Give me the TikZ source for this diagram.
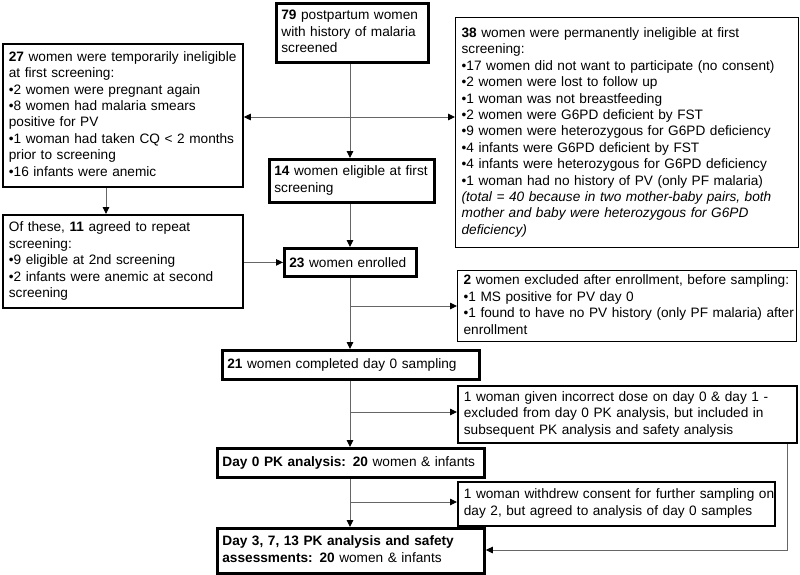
\documentclass[tikz,border=0pt]{standalone}
\usepackage{fontspec}
\setmainfont{Liberation Sans}
\usetikzlibrary{arrows.meta}
\newcommand{\boxlines}[1]{\begin{tabular}{@{}l@{}}#1\end{tabular}}
\begin{document}
\begin{tikzpicture}[x=1pt,y=-1pt,
  every node/.style={font=\fontsize{13.65pt}{16.4pt}\selectfont},
  mainbox/.style={draw=black, line width=2.8pt, anchor=north west, inner xsep=5pt, inner ysep=0pt, align=left},
  sidebox/.style={draw=black, line width=1.8pt, anchor=north west, inner xsep=6pt, inner ysep=0pt, align=left},
  thinbox/.style={draw=black, line width=1.3pt, anchor=north west, inner xsep=6pt, inner ysep=0pt, align=left},
  conn/.style={draw=black!60, line width=0.9pt, -{Triangle[length=7pt,width=6.5pt,color=black]}},
  bothconn/.style={draw=black!60, line width=0.9pt, {Triangle[length=7pt,width=6.5pt,color=black]}-{Triangle[length=7pt,width=6.5pt,color=black]}}]
\useasboundingbox (0,0) rectangle (800,574);

% main column
\node[mainbox, minimum width=152pt, minimum height=59pt, text width=142pt] (b79) at (275,2)
  {\boxlines{\textbf{79} postpartum women\\with history of malaria\\screened}};
\node[mainbox, minimum width=165pt, minimum height=43pt, text width=155pt] (b14) at (268,158)
  {\boxlines{\textbf{14} women eligible at first\\screening}};
\node[mainbox, minimum width=132pt, minimum height=28pt, text width=122pt] (b23) at (283,247)
  {\textbf{23} women enrolled};
\node[mainbox, minimum width=257pt, minimum height=29pt, text width=247pt] (b21) at (221,349)
  {\textbf{21} women completed day 0 sampling};
\node[mainbox, minimum width=267pt, minimum height=29pt, text width=257pt] (bd0) at (216,447)
  {\textbf{Day 0 PK analysis: 20} women \& infants};
\node[mainbox, minimum width=267pt, minimum height=45pt, text width=257pt] (bd3) at (216,527)
  {\boxlines{\textbf{Day 3, 7, 13 PK analysis and safety}\\\textbf{assessments: 20} women \& infants}};

% left boxes
\node[sidebox, minimum width=240pt, minimum height=143pt, text width=228pt] (b27) at (2,43)
  {\boxlines{\textbf{27} women were temporarily ineligible\\at first screening:\\•2 women were pregnant again\\•8 women had malaria smears\\positive for PV\\•1 woman had taken CQ < 2 months\\prior to screening\\•16 infants were anemic}};
\node[sidebox, minimum width=240pt, minimum height=93pt, text width=228pt] (bof) at (2,214)
  {\boxlines{Of these, \textbf{11} agreed to repeat\\screening:\\•9 eligible at 2nd screening\\•2 infants were anemic at second\\screening}};

% right boxes
\node[thinbox, minimum width=343pt, minimum height=230pt, text width=331pt] (b38) at (455,17)
  {\boxlines{\textbf{38} women were permanently ineligible at first\\screening:\\•17 women did not want to participate (no consent)\\•2 women were lost to follow up\\•1 woman was not breastfeeding\\•2 women were G6PD deficient by FST\\•9 women were heterozygous for G6PD deficiency\\•4 infants were G6PD deficient by FST\\•4 infants were heterozygous for G6PD deficiency\\•1 woman had no history of PV (only PF malaria)\\\textit{(total = 40 because in two mother-baby pairs, both}\\\textit{mother and baby were heterozygous for G6PD}\\\textit{deficiency)}}};
\node[thinbox, minimum width=339pt, minimum height=71pt, text width=327pt] (bex) at (457,270)
  {\boxlines{\textbf{2} women excluded after enrollment, before sampling:\\•1 MS positive for PV day 0\\•1 found to have no PV history (only PF malaria) after\\enrollment}};
\node[sidebox, minimum width=339pt, minimum height=57pt, text width=327pt] (binc) at (457,385)
  {\boxlines{1 woman given incorrect dose on day 0 \& day 1 -\\excluded from day 0 PK analysis, but included in\\subsequent PK analysis and safety analysis}};
\node[sidebox, minimum width=317pt, minimum height=44pt, text width=305pt] (bwd) at (457,481)
  {\boxlines{1 woman withdrew consent for further sampling on\\day 2, but agreed to analysis of day 0 samples}};

% connectors
\coordinate (tr) at (350,0);
\coordinate (h1) at (350,117);
\coordinate (c27) at (106,0);
\coordinate (j1) at (350,306);
\coordinate (j2) at (350,412);
\coordinate (j3) at (350,502);
\coordinate (r1) at (787,550);

\draw[conn] (tr |- b79.south) -- (tr |- b14.north);
\draw[bothconn] (h1 -| b27.east) -- (h1 -| b38.west);
\draw[conn] (c27 |- b27.south) -- (c27 |- bof.north);
\draw[conn] (tr |- b14.south) -- (tr |- b23.north);
\draw[conn] (bof.east |- b23.west) -- (b23.west);
\draw[conn] (tr |- b23.south) -- (tr |- b21.north);
\draw[conn] (j1) -- (j1 -| bex.west);
\draw[conn] (tr |- b21.south) -- (tr |- bd0.north);
\draw[conn] (j2) -- (j2 -| binc.west);
\draw[conn] (tr |- bd0.south) -- (tr |- bd3.north);
\draw[conn] (j3) -- (j3 -| bwd.west);
\draw[conn] (r1 |- binc.south) -- (r1) -- (r1 -| bd3.east);
\end{tikzpicture}
\end{document}
